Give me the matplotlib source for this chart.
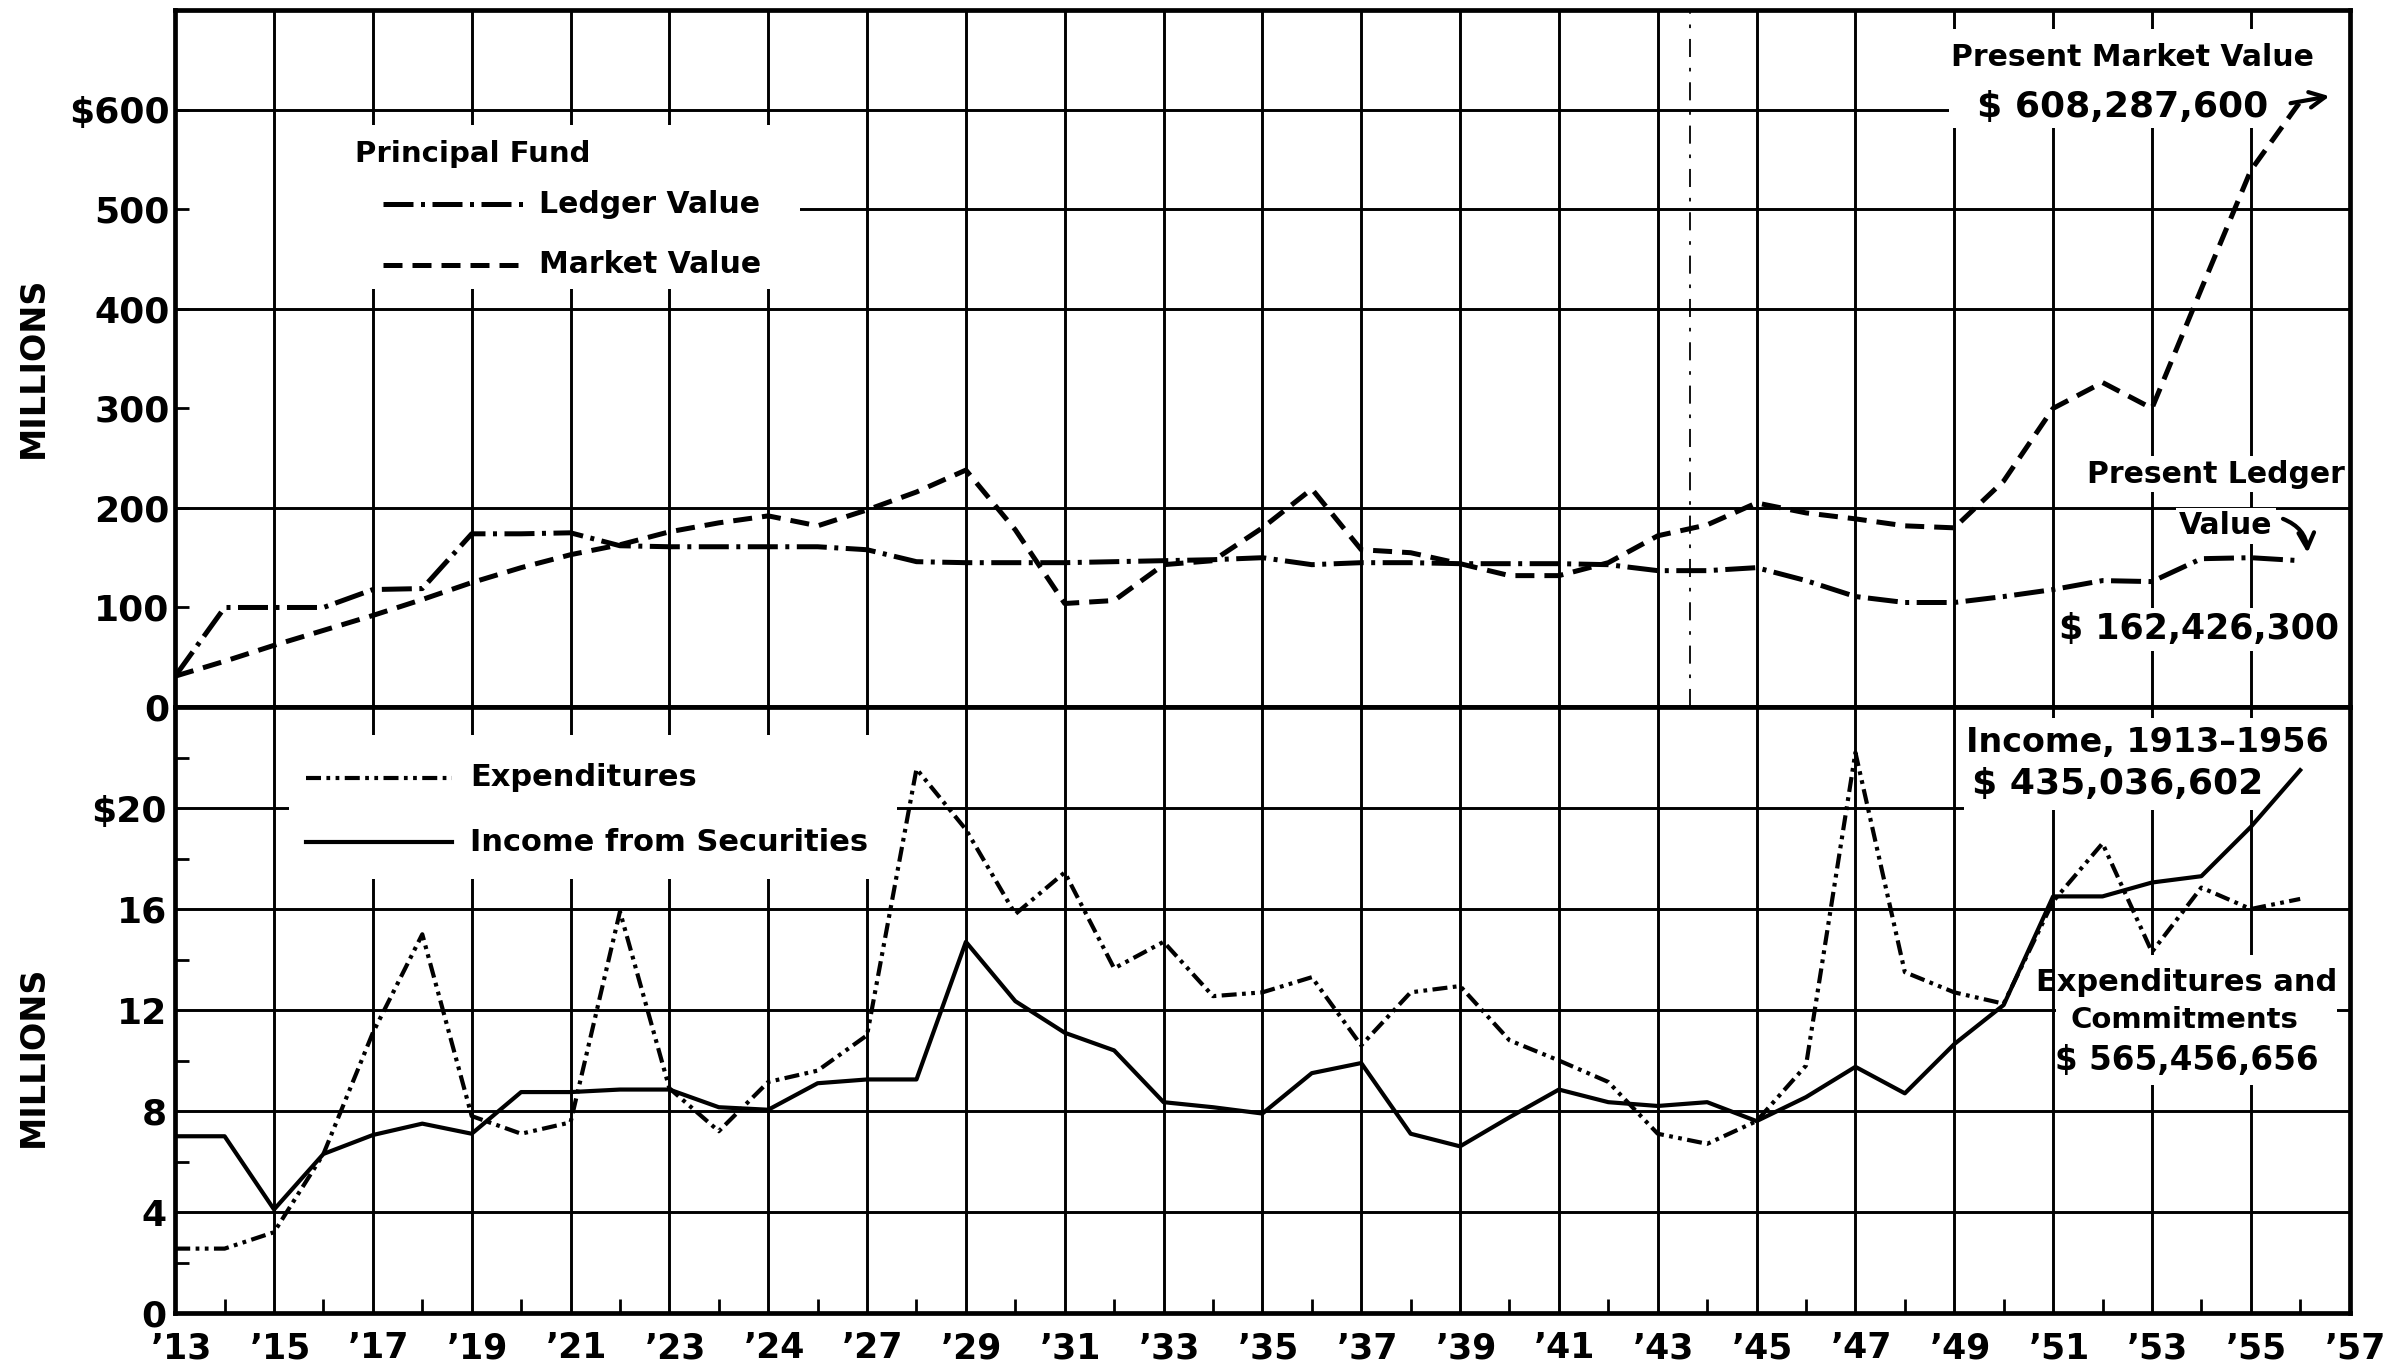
import matplotlib
matplotlib.use('Agg')
import matplotlib.pyplot as plt
from matplotlib.patches import Rectangle
from matplotlib.transforms import ScaledTranslation

plt.rcParams['font.family'] = ['DejaVu Sans']
plt.rcParams['font.weight'] = 'bold'

# --- data (millions of dollars) ---
years = list(range(1913, 1957))

ledger_value = [31, 100, 100, 100, 118, 119, 174, 174, 175, 162,
                161, 161, 161, 161, 158, 146, 145, 145, 145, 146,
                147, 148, 150, 143, 145, 145, 144, 144, 144, 143,
                137, 137, 140, 127, 111, 105, 105, 111, 118, 127,
                126, 149, 150, 147]

market_value = [31, 46, 62, 77, 92, 108, 125, 140, 153, 163,
                176, 185, 192, 182, 198, 216, 238, 178, 104, 107,
                143, 147, 180, 219, 158, 155, 144, 132, 132, 145,
                172, 183, 205, 195, 189, 182, 180, 227, 300, 326,
                300, 420, 539, 608]

expenditures = [2.55, 2.55, 3.2, 6.3, 11.1, 15.0, 7.8, 7.1, 7.55, 15.9,
                8.9, 7.2, 9.15, 9.6, 11.0, 21.55, 19.15, 15.8, 17.45, 13.65,
                14.7, 12.55, 12.7, 13.3, 10.6, 12.7, 12.95, 10.8, 10.0, 9.15,
                7.1, 6.7, 7.6, 9.8, 22.2, 13.5, 12.7, 12.25, 16.3, 18.6,
                14.3, 16.85, 16.0, 16.4]

income_securities = [7.0, 7.0, 4.1, 6.3, 7.05, 7.5, 7.1, 8.75, 8.75, 8.85,
                     8.85, 8.15, 8.05, 9.1, 9.25, 9.25, 14.7, 12.35, 11.1, 10.4,
                     8.35, 8.15, 7.9, 9.5, 9.9, 7.1, 6.6, 7.75, 8.85, 8.35,
                     8.2, 8.35, 7.6, 8.55, 9.75, 8.7, 10.65, 12.2, 16.5, 16.5,
                     17.05, 17.3, 19.25, 21.5]

year_ticks = list(range(1913, 1958, 2))
year_labels = ["’13", "’15", "’17", "’19", "’21", "’23", "’24", "’27", "’29",
               "’31", "’33", "’35", "’37", "’39", "’41", "’43", "’45", "’47",
               "’49", "’51", "’53", "’55", "’57"]
top_ticks = [0, 100, 200, 300, 400, 500, 600]
top_labels = ['0', '100', '200', '300', '400', '500', '$600']
bot_ticks = [0, 4, 8, 12, 16, 20]
bot_labels = ['0', '4', '8', '12', '16', '$20']

LEDGER = (0, (6, 1.5, 0.8, 1.5))
MARKET = (0, (3.8, 2.0))
EXPEND = (0, (3.6, 1.3, 0.9, 1.3, 0.9, 1.3))
WHITE_BOX = dict(boxstyle='square,pad=0.12', fc='white', ec='none')

fig = plt.figure(figsize=(24, 13.66), dpi=100)
ax_top = fig.add_axes([0.073, 0.4824, 0.906, 0.5102])
ax_bot = fig.add_axes([0.073, 0.0388, 0.906, 0.4436])

for ax in (ax_top, ax_bot):
    ax.set_xlim(1913, 1957)
    for s in ax.spines.values():
        s.set_linewidth(3.4)
        s.set_zorder(6)
    for yr in range(1915, 1957, 2):
        ax.axvline(yr, color='k', lw=2.1, zorder=1)

# ---------------- top panel: principal fund ----------------
ax_top.set_ylim(0, 700)
for v in (200, 400, 600):
    ax_top.axhline(v, color='k', lw=2.1, zorder=1)
ax_top.axhline(500, xmin=(1925.4 - 1913) / 44, color='k', lw=2.1, zorder=1)
ax_top.axvline(1943.65, color='k', lw=1.3, ls=(0, (10, 6, 2, 6)), zorder=1)

ax_top.set_xticks([])
ax_top.set_yticks(top_ticks)
ax_top.set_yticklabels(top_labels)
ax_top.tick_params(axis='y', direction='in', length=10, width=2, pad=4,
                   labelsize=26)

ax_top.add_patch(Rectangle((1916.1, 420), 9.55, 165, fc='white', ec='none', zorder=2))
ax_top.add_patch(Rectangle((1948.9, 582), 8.1, 99, fc='white', ec='none', zorder=2))

ax_top.plot(years, ledger_value, color='k', lw=3.6, ls=LEDGER, zorder=3)
ax_top.plot(years, market_value, color='k', lw=3.6, ls=MARKET, zorder=3)

ax_top.text(1916.64, 555, 'Principal Fund', fontsize=21, va='center', zorder=4)
ax_top.plot([1917.2, 1920.1], [505, 505], color='k', lw=3.6, ls=LEDGER, zorder=4)
ax_top.text(1920.37, 505, 'Ledger Value', fontsize=21.5, va='center', zorder=4)
ax_top.plot([1917.2, 1920.1], [444, 444], color='k', lw=3.6, ls=MARKET, zorder=4)
ax_top.text(1920.37, 444, 'Market Value', fontsize=21.5, va='center', zorder=4)

ax_top.text(1952.6, 652, 'Present Market Value', fontsize=21.5, ha='center',
            va='center', zorder=4)
ax_top.text(1952.4, 603, '$ 608,287,600', fontsize=26, ha='center',
            va='center', zorder=4)
ax_top.annotate('', xy=(1956.65, 614), xytext=(1955.75, 606), zorder=4,
                arrowprops=dict(arrowstyle='->', lw=3, color='k',
                                mutation_scale=28))

ax_top.text(1954.3, 234, 'Present Ledger', fontsize=21.5, ha='center',
            va='center', bbox=WHITE_BOX, zorder=4)
ax_top.text(1954.5, 182, 'Value', fontsize=21.5, ha='center', va='center',
            bbox=WHITE_BOX, zorder=4)
ax_top.text(1953.95, 78, '$ 162,426,300', fontsize=25, ha='center',
            va='center', bbox=WHITE_BOX, zorder=4)
ax_top.annotate('', xy=(1956.15, 152), xytext=(1955.6, 190), zorder=4,
                arrowprops=dict(arrowstyle='->', lw=3, color='k',
                                mutation_scale=28,
                                connectionstyle='arc3,rad=-0.35'))

# ---------------- bottom panel: expenditures and income ----------------
ax_bot.set_ylim(0, 24)
for v in (4, 8, 12, 16, 20):
    ax_bot.axhline(v, color='k', lw=2.1, zorder=1)

ax_bot.set_xticks(year_ticks)
ax_bot.set_xticklabels(year_labels)
ax_bot.set_xticks(range(1914, 1957, 2), minor=True)
ax_bot.tick_params(axis='x', which='major', length=0, pad=13, labelsize=25)
ax_bot.tick_params(axis='x', which='minor', direction='in', length=10, width=2)
shift = ScaledTranslation(6 / 100, 0, fig.dpi_scale_trans)
for lab in ax_bot.get_xticklabels():
    lab.set_transform(lab.get_transform() + shift)
ax_bot.set_yticks(bot_ticks)
ax_bot.set_yticklabels(bot_labels)
ax_bot.set_yticks(range(2, 24, 4), minor=True)
ax_bot.tick_params(axis='y', which='major', length=0, pad=6, labelsize=26)
ax_bot.tick_params(axis='y', which='minor', direction='in', length=10, width=2)

ax_bot.add_patch(Rectangle((1915.3, 17.2), 12.3, 5.7, fc='white', ec='none', zorder=2))
ax_bot.add_patch(Rectangle((1949.2, 19.92), 7.8, 3.63, fc='white', ec='none', zorder=2))
ax_bot.add_patch(Rectangle((1951.05, 9.03), 5.7, 5.15, fc='white', ec='none', zorder=2))

ax_bot.plot(years, income_securities, color='k', lw=3, zorder=3)
ax_bot.plot(years, expenditures, color='k', lw=3, ls=EXPEND, zorder=3)

ax_bot.plot([1915.65, 1918.6], [21.2, 21.2], color='k', lw=3, ls=EXPEND, zorder=4)
ax_bot.text(1918.97, 21.2, 'Expenditures', fontsize=22, va='center', zorder=4)
ax_bot.plot([1915.65, 1918.6], [18.65, 18.65], color='k', lw=3, zorder=4)
ax_bot.text(1918.97, 18.65, 'Income from Securities', fontsize=22,
            va='center', zorder=4)

ax_bot.text(1952.9, 22.6, 'Income, 1913–1956', fontsize=24, ha='center',
            va='center', zorder=4)
ax_bot.text(1952.3, 20.95, '$ 435,036,602', fontsize=26, ha='center',
            va='center', zorder=4)
ax_bot.text(1953.7, 13.1, 'Expenditures and', fontsize=22, ha='center',
            va='center', zorder=4)
ax_bot.text(1953.65, 11.6, 'Commitments', fontsize=21, ha='center',
            va='center', zorder=4)
ax_bot.text(1953.7, 10.0, '$ 565,456,656', fontsize=23.5, ha='center',
            va='center', zorder=4)

fig.text(0.014, 1 - 367 / 1366, 'MILLIONS', rotation=90, ha='center',
         va='center', fontsize=24)
fig.text(0.014, 1 - 1056 / 1366, 'MILLIONS', rotation=90, ha='center',
         va='center', fontsize=24)

fig.savefig('out.png', dpi=100)
